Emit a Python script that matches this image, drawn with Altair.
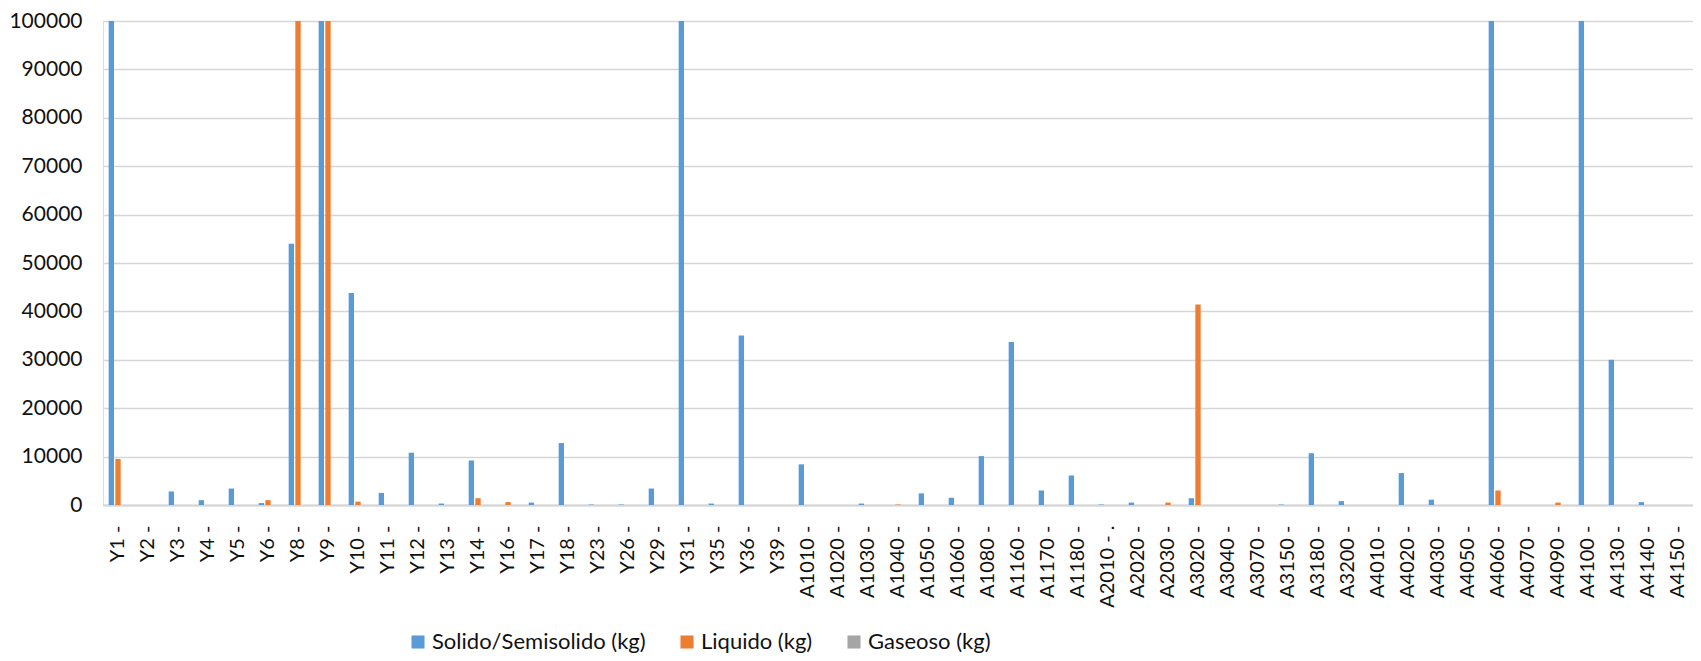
import altair as alt
import pandas as pd

categories = ["Y1 -", "Y2 -", "Y3 -", "Y4 -", "Y5 -", "Y6 -", "Y8 -", "Y9 -", "Y10 -", "Y11 -",
              "Y12 -", "Y13 -", "Y14 -", "Y16 -", "Y17 -", "Y18 -", "Y23 -", "Y26 -", "Y29 -", "Y31 -",
              "Y35 -", "Y36 -", "Y39 -", "A1010 -", "A1020 -", "A1030 -", "A1040 -", "A1050 -", "A1060 -",
              "A1080 -", "A1160 -", "A1170 -", "A1180 -", "A2010 - .", "A2020 -", "A2030 -", "A3020 -",
              "A3040 -", "A3070 -", "A3150 -", "A3180 -", "A3200 -", "A4010 -", "A4020 -", "A4030 -",
              "A4050 -", "A4060 -", "A4070 -", "A4090 -", "A4100 -", "A4130 -", "A4140 -", "A4150 -"]

solido = [150000, 0, 2800, 1000, 3400, 400, 54000, 150000, 43800, 2500,
          10800, 300, 9200, 0, 500, 12800, 100, 100, 3400, 150000,
          300, 35000, 0, 8400, 0, 300, 0, 2400, 1500,
          10100, 33700, 3000, 6100, 100, 500, 0, 1400,
          0, 0, 100, 10700, 800, 0, 6600, 1100,
          0, 150000, 0, 0, 150000, 30000, 600, 0]

liquido = [9500, 0, 0, 0, 0, 1000, 150000, 150000, 700, 0,
           0, 0, 1400, 600, 0, 0, 0, 0, 0, 0,
           0, 0, 0, 0, 0, 0, 100, 0, 0,
           0, 0, 0, 0, 0, 0, 500, 41400,
           0, 0, 0, 0, 0, 0, 0, 0,
           0, 3000, 0, 500, 0, 0, 0, 0]

gaseoso = [0] * len(categories)

series_names = ["Solido/Semisolido (kg)", "Liquido (kg)", "Gaseoso (kg)"]
series_colors = ["#5B9BD5", "#ED7D31", "#A5A5A5"]
y_ticks = [0, 10000, 20000, 30000, 40000, 50000, 60000, 70000, 80000, 90000, 100000]

rows = []
for i, c in enumerate(categories):
    for s, vals in zip(series_names, [solido, liquido, gaseoso]):
        rows.append({"cat": c, "serie": s, "valor": vals[i]})
df = pd.DataFrame(rows)

FONT = "Lato"

chart = alt.Chart(df).mark_bar(clip=True).encode(
    x=alt.X("cat:N", sort=categories,
            scale=alt.Scale(paddingInner=1/3, paddingOuter=1/6),
            axis=alt.Axis(title=None, labelAngle=-90, labelFont=FONT, labelFontSize=20,
                          labelColor="#111111", labelPadding=20, ticks=False,
                          domainColor="#D4D4D4", domainWidth=2, labelOverlap=False)),
    xOffset=alt.XOffset("serie:N", sort=series_names,
                        scale=alt.Scale(paddingInner=0.2, paddingOuter=0.1)),
    y=alt.Y("valor:Q", scale=alt.Scale(domain=[0, 100000], nice=False),
            axis=alt.Axis(title=None, values=y_ticks, format="d", labelFont=FONT,
                          labelFontSize=21, labelColor="#111111", labelPadding=21,
                          ticks=False, domain=False, gridColor="#D6D6D6", gridWidth=1.5)),
    color=alt.Color("serie:N", sort=series_names,
                    scale=alt.Scale(domain=series_names, range=series_colors),
                    legend=alt.Legend(title=None, orient="none", direction="horizontal",
                                      legendX=304, legendY=610, symbolType="square",
                                      symbolSize=170, symbolStrokeWidth=0,
                                      labelFont=FONT, labelFontSize=22, labelColor="#111111",
                                      labelOffset=3, columnPadding=30, padding=0,
                                      labelLimit=400)),
).properties(
    width=1590, height=484,
    padding={"left": 0, "top": 2, "right": 0, "bottom": 0},
).configure_view(
    fill="#E4E4E4", stroke=None
).configure(background="white")

chart.save("out.html", embed_options={"renderer": "svg", "actions": False})
